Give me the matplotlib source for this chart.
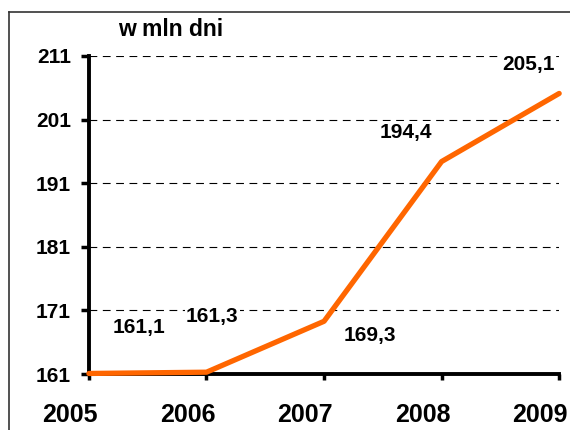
import matplotlib
matplotlib.use('Agg')
import matplotlib.pyplot as plt
import matplotlib.transforms as mtransforms
from matplotlib.lines import Line2D

plt.rcParams['font.family'] = ['Liberation Sans', 'DejaVu Sans']
plt.rcParams['font.weight'] = 'bold'

# dane
years = [2005, 2006, 2007, 2008, 2009]
values = [161.1, 161.3, 169.3, 194.4, 205.1]
value_labels = ['161,1', '161,3', '169,3', '194,4', '205,1']
label_pos = [(2005.43, 168.4), (2006.05, 170.1), (2007.39, 167.0),
             (2007.70, 199.0), (2008.74, 209.7)]
y_ticks = [161, 171, 181, 191, 201, 211]

fig = plt.figure(figsize=(5.7, 4.3), dpi=100)
ax = fig.add_axes([0.156, 0.130, 0.825, 0.740])

# ramka (lewa i górna krawędź)
fig.add_artist(Line2D([9/570, 9/570], [0, 1 - 12/430], color='#333333', lw=1.2,
                      transform=fig.transFigure))
fig.add_artist(Line2D([9/570, 1], [1 - 12/430, 1 - 12/430], color='#333333', lw=1.2,
                      transform=fig.transFigure))

for y in y_ticks[1:]:
    ax.axhline(y, color='black', lw=0.8, ls=(0, (7, 5)), zorder=1)

ax.plot(years, values, color='#FF6600', lw=3.8, zorder=3, clip_on=False,
        solid_capstyle='round')

for (x, y), txt in zip(label_pos, value_labels):
    ax.text(x, y, txt, ha='center', va='center', fontsize=15, fontweight='bold',
            bbox=dict(facecolor='white', edgecolor='none', pad=1), zorder=2)

ax.set_xlim(2005, 2009)
ax.set_ylim(161, 211)
ax.set_xticks(years)
ax.set_yticks(y_ticks)
ax.set_xticklabels([str(y) for y in years], fontsize=18, fontweight='bold')
ax.set_yticklabels([str(y) for y in y_ticks], fontsize=15, fontweight='bold')
ax.tick_params(axis='x', length=4, width=2.5, pad=17, direction='out')
ax.tick_params(axis='y', length=6, width=2.5, pad=7, direction='out')

# etykiety lat przesunięte w lewo jak w oryginale
shift = mtransforms.ScaledTranslation(-19/100, 0, fig.dpi_scale_trans)
for lbl in ax.get_xticklabels():
    lbl.set_transform(lbl.get_transform() + shift)

for s in ['top', 'right']:
    ax.spines[s].set_visible(False)
for s in ['left', 'bottom']:
    ax.spines[s].set_linewidth(2.8)

fig.text(171/570, 1 - 30/430, 'w mln dni', ha='center', va='center',
         fontsize=16.5, fontweight='bold')

fig.savefig('out.png', dpi=100)
